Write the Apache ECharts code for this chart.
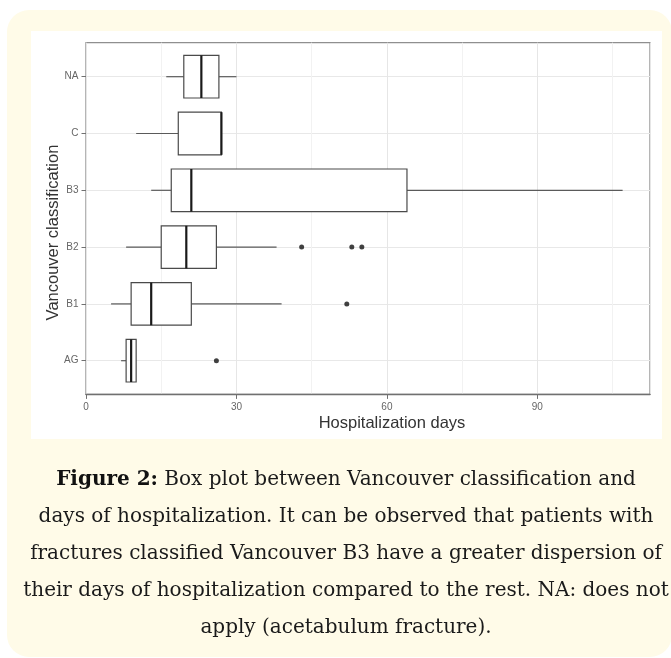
<!DOCTYPE html>
<html>
<head>
<meta charset="utf-8">
<script src="https://cdn.jsdelivr.net/npm/echarts@6.0.0/dist/echarts.min.js"></script>
<style>
  html, body { margin: 0; padding: 0; background: #ffffff; overflow: hidden; width: 671px; height: 658px; }
  #cream { position: absolute; left: 7px; top: 10px; width: 665px; height: 647px; background: #fffbe8; border-radius: 22px; }
  #white { position: absolute; left: 31px; top: 31px; width: 631px; height: 408px; background: #ffffff; }
  #chart { position: absolute; left: 0; top: 0; width: 671px; height: 658px; }
</style>
</head>
<body>
<div id="cream"></div>
<div id="white"></div>
<div id="chart"></div>
<script>
// ---- data ----
const categories = ['AG', 'B1', 'B2', 'B3', 'C', 'NA'];
const whiskerLow  = [7, 5, 8, 13, 10, 16];
const q1Values    = [8, 9, 15, 17, 18.4, 19.5];
const medianVals  = [9, 13, 20, 21, 27, 23];
const q3Values    = [10, 21, 26, 64, 27, 26.5];
const whiskerHigh = [10, 39, 38, 107, 27, 30];
const outlierCats = ['AG', 'B1', 'B2', 'B2', 'B2'];
const outlierVals = [26, 52, 43, 53, 55];
const xTickValues = [0, 30, 60, 90];
const xMax = 112.46;
const xTitle = 'Hospitalization days';
const yTitle = 'Vancouver classification';
const captionLines = [
  '{b|Figure 2:}{n| Box plot between Vancouver classification and}',
  '{n|days of hospitalization. It can be observed that patients with}',
  '{n|fractures classified Vancouver B3 have a greater dispersion of}',
  '{n|their days of hospitalization compared to the rest. NA: does not}',
  '{n|apply (acetabulum fracture).}'
];

const boxData = categories.map((c, i) => [i, whiskerLow[i], q1Values[i], medianVals[i], q3Values[i], whiskerHigh[i]]);
const outlierData = outlierCats.map((c, i) => [outlierVals[i], c]);

function renderBox(params, api) {
  const cat = api.value(0);
  const lo = api.coord([api.value(1), cat]);
  const q1 = api.coord([api.value(2), cat]);
  const md = api.coord([api.value(3), cat]);
  const q3 = api.coord([api.value(4), cat]);
  const hi = api.coord([api.value(5), cat]);
  const h = api.size([0, 1])[1] * 0.75;
  const y = md[1];
  const children = [];
  if (q1[0] - lo[0] > 0.5) children.push({ type: 'line', shape: { x1: lo[0], y1: y, x2: q1[0], y2: y }, style: { stroke: '#5a5a5a', lineWidth: 1.2 } });
  if (hi[0] - q3[0] > 0.5) children.push({ type: 'line', shape: { x1: q3[0], y1: y, x2: hi[0], y2: y }, style: { stroke: '#5a5a5a', lineWidth: 1.2 } });
  children.push({ type: 'rect', shape: { x: q1[0], y: y - h / 2, width: q3[0] - q1[0], height: h }, style: { fill: '#ffffff', stroke: '#4a4a4a', lineWidth: 1.2 } });
  children.push({ type: 'line', shape: { x1: md[0], y1: y - h / 2, x2: md[0], y2: y + h / 2 }, style: { stroke: '#1a1a1a', lineWidth: 2.2 } });
  return { type: 'group', children: children };
}

const chart = echarts.init(document.getElementById('chart'), null, { renderer: 'canvas' });
const labelFont = 'Liberation Sans, Arial, sans-serif';
chart.setOption({
  animation: false,
  backgroundColor: 'transparent',
  grid: [
    { left: 86, right: 21, top: 76.7, bottom: 297.3, show: false },
    { left: 86, right: 21, top: 42.7, bottom: 263.6, show: true, borderColor: '#8f8f8f', borderWidth: 1.3, backgroundColor: 'transparent' }
  ],
  xAxis: [
    { type: 'value', gridIndex: 0, min: 0, max: xMax, show: false },
    { type: 'value', gridIndex: 1, min: 0, max: xMax, interval: 30, position: 'bottom',
      axisLine: { show: true, lineStyle: { color: '#707070', width: 1.3 } },
      axisTick: { show: true, length: 4.5, customValues: xTickValues, lineStyle: { color: '#707070' } },
      axisLabel: { show: true, customValues: xTickValues, margin: 8, fontSize: 10, color: '#666', fontFamily: labelFont },
      splitLine: { show: false } },
    { type: 'value', gridIndex: 1, min: 0, max: xMax, interval: 15, position: 'top',
      axisLine: { show: false }, axisTick: { show: false }, axisLabel: { show: false },
      splitLine: { show: true, lineStyle: { color: ['#e6e6e6', '#f2f2f2'], width: 1 } } }
  ],
  yAxis: [
    { type: 'category', gridIndex: 0, data: categories, boundaryGap: false,
      axisLine: { show: false },
      axisTick: { show: true, length: 4.5, lineStyle: { color: '#707070' } },
      axisLabel: { margin: 7.5, fontSize: 10, color: '#666', fontFamily: labelFont },
      splitLine: { show: true, lineStyle: { color: '#e8e8e8', width: 1 } } },
    { type: 'value', gridIndex: 1, min: 0, max: 1, show: false }
  ],
  series: [
    { type: 'custom', xAxisIndex: 0, yAxisIndex: 0, data: boxData, renderItem: renderBox,
      encode: { x: [1, 2, 3, 4, 5], y: 0 }, z: 3 },
    { type: 'scatter', xAxisIndex: 0, yAxisIndex: 0, data: outlierData, symbol: 'circle', symbolSize: 5,
      itemStyle: { color: '#111' }, z: 4 }
  ],
  graphic: [
    { type: 'text', x: 392, y: 423, style: { text: xTitle, font: '16.5px ' + labelFont, fill: '#333', align: 'center', verticalAlign: 'middle' } },
    { type: 'text', x: 53, y: 232.5, rotation: Math.PI / 2, style: { text: yTitle, font: '16.5px ' + labelFont, fill: '#333', align: 'center', verticalAlign: 'middle' } },
    { type: 'text', x: 346, y: 461, style: {
        text: captionLines.join('\n'), align: 'center', verticalAlign: 'top',
        font: '20px DejaVu Serif, serif', fill: '#1a1a1a', lineHeight: 37,
        rich: {
          b: { fontFamily: 'DejaVu Serif', fontWeight: 'bold', fontSize: 20, lineHeight: 37, fill: '#111', align: 'center' },
          n: { fontFamily: 'DejaVu Serif', fontSize: 20, lineHeight: 37, fill: '#1a1a1a', align: 'center' }
        } } }
  ]
});
</script>
</body>
</html>
